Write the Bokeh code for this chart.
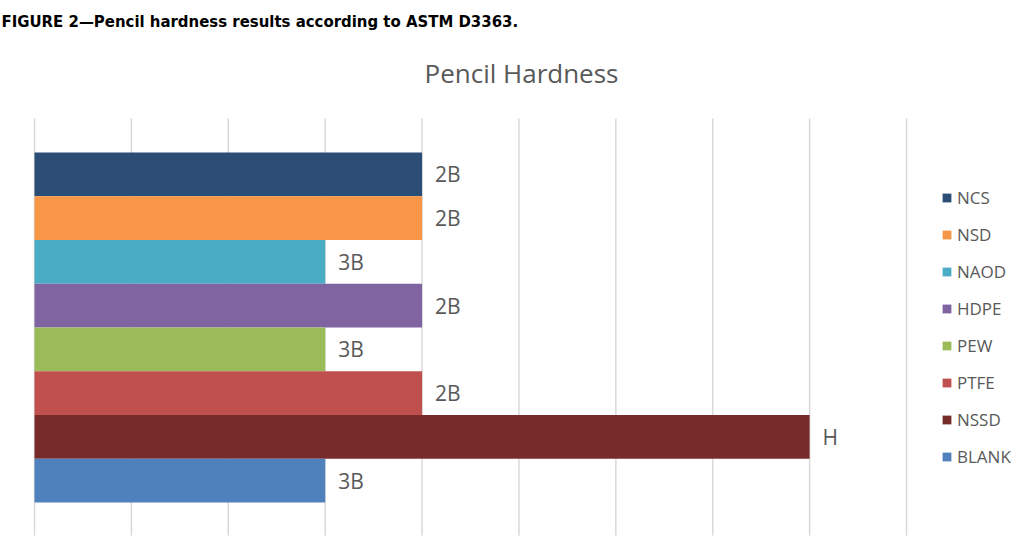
from bokeh.plotting import figure
from bokeh.models import Range1d, Legend, LegendItem, ColumnDataSource
from bokeh.core.properties import value
from bokeh.embed import file_html
from bokeh.resources import INLINE

caption = "FIGURE 2\u2014Pencil hardness results according to ASTM D3363."
chart_title = "Pencil Hardness"
series = ["NCS", "NSD", "NAOD", "HDPE", "PEW", "PTFE", "NSSD", "BLANK"]
hardness = [4, 4, 3, 4, 3, 4, 8, 3]
labels = ["2B", "2B", "3B", "2B", "3B", "2B", "H", "3B"]
colors = ["#2c4d75", "#f79646", "#4bacc6", "#8064a2", "#9bbb59", "#c0504d", "#772c2a", "#4f81bd"]
grid_ticks = [0, 1, 2, 3, 4, 5, 6, 7, 8, 9]

# plot-area geometry (pixels) of the chart inside the 1024x554 page
W, H = 1024, 554
PX_X = 96.89        # pixels per hardness step
PX_Y = 43.75        # pixels per bar
AREA_LEFT, AREA_TOP, AREA_BOTTOM = 34, 118, 535
y_lo = -1.254                      # value at bottom of plot area
y_hi = y_lo + (AREA_BOTTOM - AREA_TOP) / PX_Y

x_start = -AREA_LEFT / PX_X
x_end = (W - AREA_LEFT) / PX_X
y_start = y_lo - (H - AREA_BOTTOM) / PX_Y
y_end = y_hi + AREA_TOP / PX_Y

def xpx(px):
    return x_start + px / PX_X

def ypx(py):
    return y_end - py / PX_Y

n = len(series)
pos = [n - 1 - i for i in range(n)]
src = ColumnDataSource(dict(series=series, hardness=hardness, label=labels, color=colors, y=pos))

p = figure(width=W, height=H, output_backend="svg", toolbar_location=None,
           x_range=Range1d(x_start, x_end), y_range=Range1d(y_start, y_end),
           x_axis_location=None, y_axis_location=None, min_border=0)
p.outline_line_color = None
p.background_fill_color = "white"
p.border_fill_color = "white"
p.grid.visible = False

# vertical gridlines of the value axis
p.segment(x0=grid_ticks, x1=grid_ticks, y0=[y_lo] * len(grid_ticks), y1=[y_hi] * len(grid_ticks),
          line_color="#d9d9d9", line_width=1.5)

bars = p.hbar(y="y", left=0, right="hardness", height=1, fill_color="color",
              line_color=None, source=src)

p.text(x="hardness", y="y", text="label", x_offset=13, text_baseline="middle",
       text_align="left", text_font=value("Open Sans"), text_font_size="21px",
       text_color="#595959", source=src)

legend = Legend(items=[LegendItem(label=s, renderers=[bars], index=i) for i, s in enumerate(series)],
                location=(941, 86), orientation="vertical", glyph_width=11, glyph_height=11,
                label_standoff=5, label_height=20, spacing=14, padding=0, margin=0,
                border_line_color=None, background_fill_alpha=0,
                label_text_font="Open Sans", label_text_font_size="17px",
                label_text_color="#595959")
p.add_layout(legend)

p.text(x=[xpx(1)], y=[ypx(21)], text=[caption],
       text_font=value("DejaVu Sans Condensed"),
       text_font_style="bold", text_font_size="16.6px",
       text_baseline="middle", text_align="left", text_color="#000000")
p.text(x=[xpx(521)], y=[ypx(72)], text=[chart_title],
       text_font=value("Open Sans"), text_font_size="26px",
       text_baseline="middle", text_align="center", text_color="#595959")

open("out.html", "w").write(file_html(p, INLINE))
